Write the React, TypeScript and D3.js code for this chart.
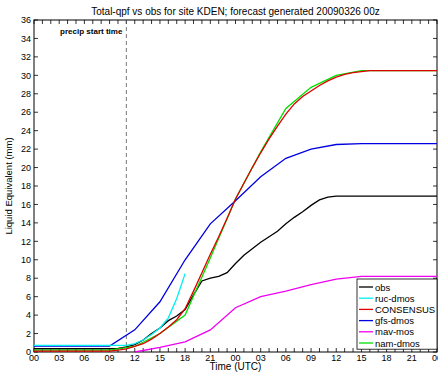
import React from "react";
import * as d3 from "d3";

const W = 438, H = 373;
const M = { left: 34, right: 1, top: 20, bottom: 21 };

const title = "Total-qpf vs obs for site KDEN; forecast generated 20090326 00z";
const xTickLabels = ["00","03","06","09","12","15","18","21","00","03","06","09","12","15","18","21","00"];
const yTicks = [0,2,4,6,8,10,12,14,16,18,20,22,24,26,28,30,32,34,36];
const precipStartHour = 11;

// hours since 00z 26 Mar 2009
const obsHours = [0,9,10,11,12,13,14,15,16,17,18,19,20,21,22,23,24,25,26,27,28,29,30,31,32,33,34,35,36,48];
const obsValues = [0.35,0.35,0.4,0.55,0.8,1.3,2.0,2.6,3.4,3.9,4.6,6.2,7.7,8.0,8.2,8.6,9.6,10.5,11.2,11.9,12.5,13.1,13.9,14.6,15.2,15.9,16.5,16.8,16.9,16.9];

const rucHours = [0,11,12,13,14,15,16,17,18];
const rucValues = [0.72,0.72,0.9,1.3,1.9,2.6,3.7,5.8,8.5];

const consHours = [0,9,10,11,12,13,14,15,16,17,18,19,20,21,22,23,24,25,26,27,28,29,30,31,32,33,34,35,36,37,38,39,40,48];
const consValues = [0.1,0.1,0.2,0.35,0.6,0.9,1.4,2.0,2.7,3.5,4.7,6.6,8.6,10.6,12.5,14.5,16.6,18.3,20.0,21.6,23.1,24.5,25.8,26.9,27.7,28.3,28.9,29.4,29.8,30.1,30.3,30.4,30.5,30.5];

const gfsHours = [0,9,12,15,18,21,24,27,30,33,36,39,42,45,48];
const gfsValues = [0.65,0.65,2.4,5.45,10.0,13.9,16.4,19.0,21.0,22.0,22.5,22.6,22.6,22.6,22.6];

const mavHours = [12,15,18,21,24,27,30,33,36,39,42,45,48];
const mavValues = [0.0,0.5,1.1,2.4,4.8,6.0,6.6,7.3,7.9,8.2,8.2,8.2,8.2];

const namHours = [0,3,6,9,12,15,18,21,24,27,30,33,36,39,42,45,48];
const namValues = [0.2,0.2,0.2,0.2,0.6,2.0,4.0,10.2,16.6,21.7,26.4,28.7,30.0,30.5,30.5,30.5,30.5];

const seriesNames = ["obs","ruc-dmos","CONSENSUS","gfs-dmos","mav-mos","nam-dmos"];
const seriesColors = ["#000000","#00f0f0","#e00000","#0000e0","#f000f0","#00e000"];
const seriesHours = [obsHours, rucHours, consHours, gfsHours, mavHours, namHours];
const seriesValues = [obsValues, rucValues, consValues, gfsValues, mavValues, namValues];
const drawOrder = [0, 5, 4, 3, 2, 1];

export default function App() {
  const x = d3.scaleLinear().domain([0, 48]).range([M.left, W - M.right]);
  const y = d3.scaleLinear().domain([0, 36]).range([H - M.bottom, M.top]);
  const x0 = x(0), x1 = x(48), y0 = y(0), y1 = y(36);
  const font = "'Liberation Sans', Arial, Helvetica, sans-serif";
  const line = d3.line<[number, number]>().x(d => x(d[0])).y(d => y(d[1]));
  const hourTicks = d3.range(0, 49, 1);
  const tl = 4;

  const legX = 357, legY = 279, legW = 80, legRow = 11.2;

  return (
    <svg width={W} height={H} style={{ position: "absolute", left: 0, top: 0, background: "#fff" }} fontFamily={font}>
      <rect x={0} y={0} width={W} height={H} fill="#fff" />
      <text x={(x0 + x1) / 2} y={15} fontSize={10} textAnchor="middle">{title}</text>
      <rect x={x0} y={y1} width={x1 - x0} height={y0 - y1} fill="none" stroke="#000" strokeWidth={1} />
      {hourTicks.map(h => (
        <g key={"xt" + h}>
          <line x1={x(h)} x2={x(h)} y1={y0} y2={y0 - tl} stroke="#000" strokeWidth={0.8} />
          <line x1={x(h)} x2={x(h)} y1={y1} y2={y1 + tl} stroke="#000" strokeWidth={0.8} />
        </g>
      ))}
      {xTickLabels.map((lab, i) => (
        <text key={"xl" + i} x={x(i * 3)} y={y0 + 8.5} fontSize={9} textAnchor="middle">{lab}</text>
      ))}
      {yTicks.map(v => (
        <g key={"yt" + v}>
          <line x1={x0} x2={x0 + tl} y1={y(v)} y2={y(v)} stroke="#000" strokeWidth={0.8} />
          <line x1={x1} x2={x1 - tl} y1={y(v)} y2={y(v)} stroke="#000" strokeWidth={0.8} />
          <text x={x0 - 3} y={y(v) + 3.2} fontSize={9} textAnchor="end">{v}</text>
        </g>
      ))}
      <text x={(x0 + x1) / 2} y={370} fontSize={10} textAnchor="middle">Time (UTC)</text>
      <text transform={`translate(12,${(y0 + y1) / 2}) rotate(-90)`} fontSize={9.5} textAnchor="middle">Liquid Equivalent (mm)</text>
      <line x1={x(precipStartHour)} x2={x(precipStartHour)} y1={y1} y2={y0} stroke="#555" strokeWidth={0.8} strokeDasharray="4,3" />
      <text x={x(precipStartHour) - 4} y={34} fontSize={8} fontWeight="bold" textAnchor="end">precip start time</text>
      {drawOrder.map(i => {
        const pts = seriesHours[i].map((h, k) => [h, seriesValues[i][k]] as [number, number]);
        return <path key={"s" + i} d={line(pts) || ""} fill="none" stroke={seriesColors[i]} strokeWidth={1.3} />;
      })}
      <rect x={legX} y={legY} width={legW} height={legRow * 6 + 3} fill="#fff" stroke="#000" strokeWidth={0.8} />
      {seriesNames.map((n, i) => (
        <g key={"lg" + i}>
          <line x1={legX + 2} x2={legX + 16} y1={legY + 8 + i * legRow} y2={legY + 8 + i * legRow} stroke={seriesColors[i]} strokeWidth={1.3} />
          <text x={legX + 18} y={legY + 11.5 + i * legRow} fontSize={9.5}>{n}</text>
        </g>
      ))}
    </svg>
  );
}
